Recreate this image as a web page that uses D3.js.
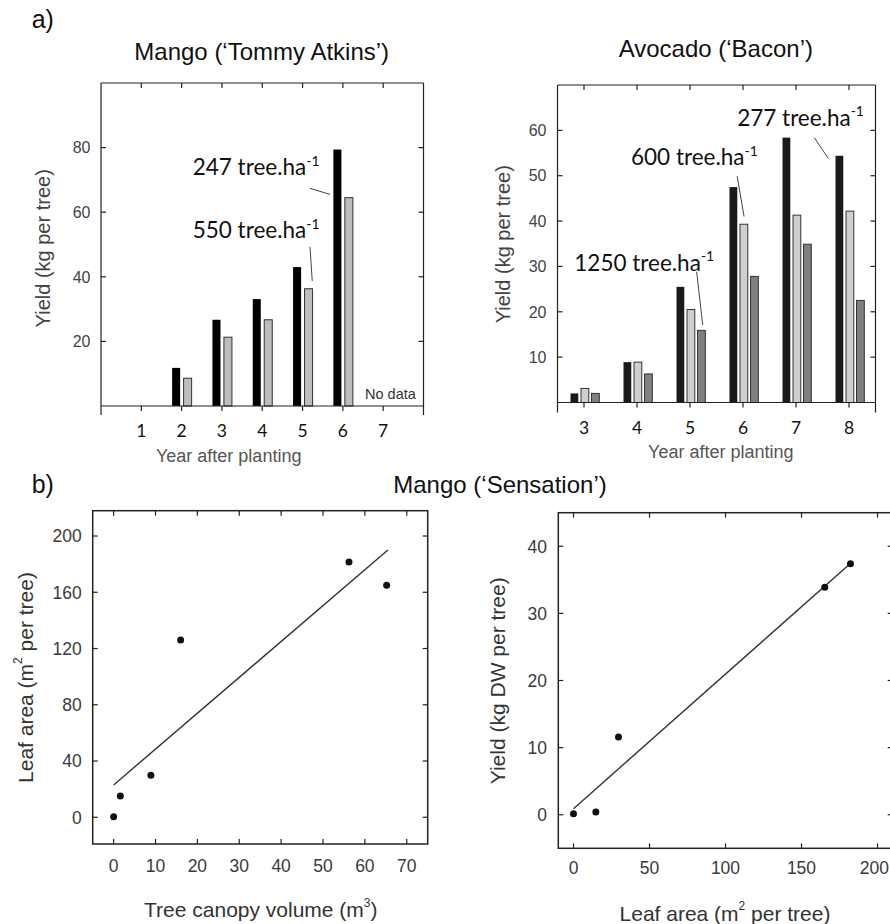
<!DOCTYPE html>
<html><head><meta charset="utf-8">
<script src="https://cdn.jsdelivr.net/npm/d3@7"></script>
<style>body{margin:0;background:#fff} svg{display:block}</style>
</head><body>
<svg id="c" width="890" height="924"></svg>
<script>
// ---------------- DATA ----------------
const mangoYears = [2, 3, 4, 5, 6];
const mangoSeries = ["247", "550"];
const mango247 = [11.8, 26.7, 33.1, 43.0, 79.4];
const mango550 = [8.6, 21.3, 26.7, 36.3, 64.5];
const mangoXTicks = [1, 2, 3, 4, 5, 6, 7];
const mangoYTicks = [20, 40, 60, 80];

const avoYears = [3, 4, 5, 6, 7, 8];
const avoSeries = ["277", "600", "1250"];
const avo277 = [2.0, 8.9, 25.5, 47.5, 58.4, 54.4];
const avo600 = [3.1, 8.9, 20.5, 39.3, 41.3, 42.2];
const avo1250 = [2.0, 6.3, 15.9, 27.8, 34.9, 22.5];
const avoXTicks = [3, 4, 5, 6, 7, 8];
const avoYTicks = [10, 20, 30, 40, 50, 60];

const canopyVolume = [0, 1.6, 8.9, 16.0, 56.2, 65.2];
const leafAreaA = [0.4, 15.1, 29.8, 126, 181.6, 165];
const fitAX = [0, 65.5];
const fitAY = [23, 190];
const canopyXTicks = [0, 10, 20, 30, 40, 50, 60, 70];
const leafYTicks = [0, 40, 80, 120, 160, 200];

const leafAreaB = [0, 14.7, 29.6, 165.3, 182.2];
const yieldDW = [0.15, 0.4, 11.6, 33.9, 37.4];
const fitBX = [0, 182.5];
const fitBY = [0.9, 37.5];
const leafXTicks = [0, 50, 100, 150, 200];
const yieldYTicks = [0, 10, 20, 30, 40];

// ---------------- SETUP ----------------
const W = 890;
const svg = d3.select('#c');
const ARIAL = '"Liberation Sans", Arial, sans-serif';
const CAL = 'Lato, "Open Sans", sans-serif';
const FRAME = '#222';

function line(g, x1, y1, x2, y2, w, c) {
  g.append('line').attr('x1', x1).attr('y1', y1).attr('x2', x2).attr('y2', y2)
    .attr('stroke', c || FRAME).attr('stroke-width', w || 1.2);
}
function txt(g, x, y, s, size, opts = {}) {
  return g.append('text').attr('x', x).attr('y', y).text(s)
    .attr('font-family', opts.family || ARIAL).attr('font-size', size)
    .attr('fill', opts.fill || '#111').attr('text-anchor', opts.anchor || 'start');
}
function supText(g, parts, size, attrs) {
  const t = g.append('text').attr('font-family', ARIAL).attr('font-size', size)
    .attr('fill', '#333').attr('text-anchor', 'middle');
  Object.entries(attrs).forEach(([k, v]) => t.attr(k, v));
  let raised = false;
  parts.forEach(([s, sup]) => {
    const ts = t.append('tspan').text(s);
    if (sup) { ts.attr('font-size', size * 0.57).attr('dy', -size * 0.48); raised = true; }
    else if (raised) { ts.attr('dy', size * 0.48); raised = false; }
  });
  return t;
}

// ---------------- BAR PANEL ----------------
function barPanel(cfg) {
  const g = svg.append('g');
  const x = d3.scaleLinear().domain(cfg.xDomain).range(cfg.xRange);
  const y = d3.scaleLinear().domain(cfg.yDomain).range(cfg.yRange);
  const sub = d3.scaleBand().domain(cfg.series).range(cfg.subRange).paddingInner(cfg.subPad);
  const x0 = cfg.xRange[0], x1 = cfg.xRange[1], top = cfg.yRange[1], base = y(0);

  cfg.series.forEach((s, si) => {
    g.selectAll(null).data(cfg.years.map((yr, i) => ({ yr, v: cfg.values[si][i] })))
      .enter().append('rect')
      .attr('x', d => x(d.yr) + sub(s))
      .attr('width', sub.bandwidth())
      .attr('y', d => y(d.v))
      .attr('height', d => base - y(d.v))
      .attr('fill', cfg.fills[si])
      .attr('stroke', cfg.strokes[si])
      .attr('stroke-width', cfg.strokes[si] === 'none' ? 0 : 1);
  });

  // frame
  line(g, x0, top, x1, top);
  line(g, x0, top, x0, base + cfg.ext);
  line(g, x1, top, x1, base + cfg.ext);
  line(g, x0, base, x1, base);
  cfg.xTicks.forEach(t => {
    line(g, x(t), top, x(t), top + 5);
    line(g, x(t), base, x(t), base + 5);
    txt(g, x(t), cfg.xLabBase, t, cfg.xTickSize, { family: CAL, anchor: 'middle', fill: '#111' });
  });
  cfg.yTicks.forEach(t => {
    line(g, x0, y(t), x0 + 5, y(t));
    line(g, x1, y(t), x1 - 5, y(t));
    txt(g, cfg.yLabRight, y(t) + cfg.yTickSize * 0.36, t, cfg.yTickSize, { anchor: 'end', fill: '#444' });
  });

  // annotations
  cfg.annotations.forEach(a => {
    const t = g.append('text').attr('x', x(a.tx)).attr('y', y(a.ty))
      .attr('font-family', CAL).attr('font-size', cfg.annSize).attr('fill', '#111');
    t.append('tspan').text(a.num + ' tree.ha');
    t.append('tspan').text('-1').attr('font-size', cfg.annSize * 0.62).attr('dy', -cfg.annSize * 0.42);
    line(g, x(a.line[0][0]), y(a.line[0][1]), x(a.line[1][0]), y(a.line[1][1]), 1, '#444');
  });
  (cfg.notes || []).forEach(n => {
    txt(g, x(n.tx), y(n.ty), n.text, n.size, { fill: '#333' });
  });

  // titles & axis labels
  txt(g, cfg.titleX, cfg.titleY, cfg.title, 24, { anchor: 'middle', fill: '#111' });
  txt(g, cfg.xLabX, cfg.xLabY, 'Year after planting', 18, { anchor: 'middle', fill: '#555' });
  g.append('text').attr('transform', `translate(${cfg.yLabX},${cfg.yLabY}) rotate(-90)`)
    .attr('text-anchor', 'middle').attr('font-family', ARIAL).attr('font-size', 20)
    .attr('fill', '#444').text('Yield (kg per tree)');
}

barPanel({
  xDomain: [0, 8], xRange: [101, 423.5], yDomain: [0, 100], yRange: [406, 83], ext: 9,
  years: mangoYears, series: mangoSeries, values: [mango247, mango550],
  fills: ['#000', '#bdbdbd'], strokes: ['none', '#333'],
  subRange: [-9.5, 10], subPad: 0.3,
  xTicks: mangoXTicks, yTicks: mangoYTicks, xLabBase: 437, xTickSize: 17.5,
  yLabRight: 90.5, yTickSize: 16,
  annotations: [
    { num: '247', tx: 2.275, ty: 71.5, line: [[5.185, 67.4], [5.68, 65.5]] },
    { num: '550', tx: 2.275, ty: 51.9, line: [[5.185, 49.3], [5.24, 38.7]] }
  ],
  notes: [{ text: 'No data', tx: 6.55, ty: 2.2, size: 14.5 }],
  annSize: 22.5,
  title: 'Mango (\u2018Tommy Atkins\u2019)', titleX: 261.7, titleY: 60,
  xLabX: 228.7, xLabY: 461.5, yLabX: 49.5, yLabY: 248.3
});

barPanel({
  xDomain: [2.5, 8.5], xRange: [557.5, 875.5], yDomain: [0, 70], yRange: [402.5, 85], ext: 10,
  years: avoYears, series: avoSeries, values: [avo277, avo600, avo1250],
  fills: ['#1a1a1a', '#cfcfcf', '#7f7f7f'], strokes: ['none', '#333', '#333'],
  subRange: [-13.5, 15.3], subPad: 0.26,
  xTicks: avoXTicks, yTicks: avoYTicks, xLabBase: 434, xTickSize: 17.5,
  yLabRight: 546.5, yTickSize: 16,
  annotations: [
    { num: '277', tx: 5.89, ty: 61.0, line: [[7.345, 58.4], [7.61, 53.8]] },
    { num: '600', tx: 3.887, ty: 52.3, line: [[5.89, 49.9], [6.02, 41.0]] },
    { num: '1250', tx: 2.817, ty: 29.1, line: [[5.126, 28.8], [5.24, 17.1]] }
  ],
  annSize: 22.5,
  title: 'Avocado (\u2018Bacon\u2019)', titleX: 715.8, titleY: 57.3,
  xLabX: 720.8, xLabY: 458.3, yLabX: 509.6, yLabY: 244.2
});

// ---------------- SCATTER PANEL ----------------
function scatterPanel(cfg) {
  const g = svg.append('g');
  const x = d3.scaleLinear().domain(cfg.xDomain).range(cfg.xRange);
  const y = d3.scaleLinear().domain(cfg.yDomain).range(cfg.yRange);
  const x0 = cfg.xRange[0], x1 = cfg.xRange[1], y0 = cfg.yRange[0], y1 = cfg.yRange[1];

  // regression line
  g.append('path').datum(cfg.fitX.map((v, i) => [v, cfg.fitY[i]]))
    .attr('d', d3.line().x(d => x(d[0])).y(d => y(d[1])))
    .attr('stroke', '#333').attr('stroke-width', 1.4).attr('fill', 'none');
  g.selectAll(null).data(cfg.xs.map((v, i) => [v, cfg.ys[i]])).enter().append('circle')
    .attr('cx', d => x(d[0])).attr('cy', d => y(d[1])).attr('r', 3.5).attr('fill', '#111');

  g.append('rect').attr('x', x0).attr('y', y1).attr('width', x1 - x0).attr('height', y0 - y1)
    .attr('fill', 'none').attr('stroke', FRAME).attr('stroke-width', 1.5);
  cfg.xTicks.forEach(t => {
    line(g, x(t), y0, x(t), y0 - 5);
    line(g, x(t), y1, x(t), y1 + 5);
    const lab = txt(g, x(t), cfg.xLabBase, t, 17.5, { anchor: 'middle', fill: '#3a3a3a' });
    const bb = lab.node().getBBox();
    if (bb.x + bb.width > W - 1) lab.attr('text-anchor', 'end').attr('x', W - 1);
  });
  cfg.yTicks.forEach(t => {
    line(g, x0, y(t), x0 + 5, y(t));
    line(g, x1, y(t), x1 - 5, y(t));
    txt(g, cfg.yLabRight, y(t) + 17.5 * 0.36, t, 17.5, { anchor: 'end', fill: '#3a3a3a' });
  });

  supText(g, cfg.xLabel, 21, { x: cfg.xLabX, y: cfg.xLabY });
  supText(g, cfg.yLabel, 21, { transform: `translate(${cfg.yLabX},${cfg.yLabY}) rotate(-90)` });
}

scatterPanel({
  xDomain: [-5, 75], xRange: [92.7, 427.7], yDomain: [-19, 218], yRange: [844, 510.7],
  xs: canopyVolume, ys: leafAreaA, fitX: fitAX, fitY: fitAY,
  xTicks: canopyXTicks, yTicks: leafYTicks, xLabBase: 871.7, yLabRight: 81.7,
  xLabel: [['Tree canopy volume (m', false], ['3', true], [')', false]],
  yLabel: [['Leaf area (m', false], ['2', true], [' per tree)', false]],
  xLabX: 260.8, xLabY: 917, yLabX: 32.5, yLabY: 677.5
});

scatterPanel({
  xDomain: [-10, 210], xRange: [558.3, 892.7], yDomain: [-5, 45], yRange: [848.3, 512.7],
  xs: leafAreaB, ys: yieldDW, fitX: fitBX, fitY: fitBY,
  xTicks: leafXTicks, yTicks: yieldYTicks, xLabBase: 874, yLabRight: 547,
  xLabel: [['Leaf area (m', false], ['2', true], [' per tree)', false]],
  yLabel: [['Yield (kg DW per tree)', false]],
  xLabX: 725, xLabY: 920.5, yLabX: 504.6, yLabY: 680.8
});

// panel letters & shared title
txt(svg, 31.7, 28.3, 'a)', 25, { fill: '#111' });
txt(svg, 31.7, 493.3, 'b)', 25, { fill: '#111' });
txt(svg, 500, 493.3, 'Mango (\u2018Sensation\u2019)', 24, { anchor: 'middle', fill: '#111' });
</script>
</body></html>
